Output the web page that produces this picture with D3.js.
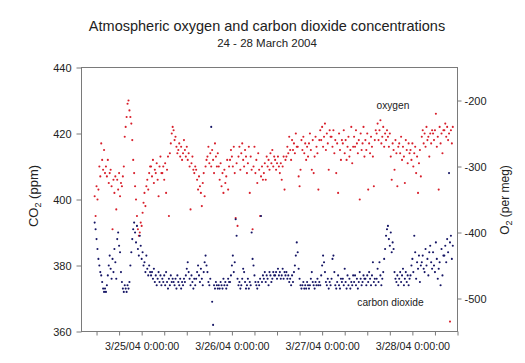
<!DOCTYPE html>
<html>
<head>
<meta charset="utf-8">
<script src="https://cdn.jsdelivr.net/npm/d3@7"></script>
<style>
  body { margin: 0; background: #fff; }
  text { font-family: Arial, "Liberation Sans", sans-serif; fill: #222; }
</style>
</head>
<body>
<div id="chart"></div>
<script>
// one reading every 15 minutes from 3/24/04 11:30
const startTime = new Date(2004, 2, 24, 11, 30);
const stepMinutes = 15;

// CO2 (ppm), left axis
const co2Values = [
  393,391,388,385,382,380,378,377,375,373,372,373,
  372,374,377,380,383,379,376,382,378,385,381,376,
  388,390,386,384,378,375,373,372,374,373,372,374,
  373,375,380,384,388,391,393,390,387,392,385,383,
  389,386,382,384,380,381,378,383,379,377,380,378,
  377,378,376,379,375,377,374,376,378,375,377,374,
  376,375,377,374,378,375,373,376,374,377,375,376,
  375,374,376,373,377,375,374,376,373,375,374,376,
  375,377,379,381,378,376,374,377,375,373,376,374,
  376,378,380,377,375,379,376,374,378,381,383,380,
  378,375,374,376,422,369,362,374,373,375,374,373,
  374,373,375,374,373,376,374,375,373,374,376,375,
  375,377,380,383,378,381,394,389,376,374,375,373,
  374,376,379,378,375,373,374,376,373,375,374,390,
  382,380,377,375,374,373,375,374,376,395,375,377,
  376,378,375,377,376,374,378,377,375,376,378,377,
  377,378,376,379,377,378,376,377,379,376,378,377,
  378,376,377,375,376,374,377,375,378,380,383,387,
  384,379,376,374,373,374,375,373,374,373,375,374,
  373,374,376,378,375,374,373,375,374,376,374,375,
  374,377,380,383,381,378,375,374,376,373,375,374,
  376,382,383,378,374,373,375,377,374,373,376,375,
  376,374,379,375,373,377,374,376,373,375,374,377,
  375,377,374,376,373,375,378,376,374,375,377,376,
  376,374,377,375,378,376,374,377,381,375,376,374,
  376,379,375,381,377,374,376,378,382,385,389,391,
  392,388,386,390,384,387,385,378,376,375,377,374,
  376,378,375,377,379,374,376,378,375,377,374,376,
  377,380,382,378,389,384,376,381,379,383,375,380,
  381,383,379,378,385,380,382,377,384,386,381,379,
  384,380,378,387,382,376,379,381,374,385,377,383,
  383,386,381,388,384,408,387,389,382,386
];

// O2 (per meg), right axis
const o2Values = [
  -345,-375,-330,-350,-335,-300,-315,-265,-290,-305,-275,-310,
  -300,-315,-290,-325,-310,-305,-330,-395,-320,-340,-315,-365,
  -320,-335,-310,-345,-325,-330,-315,-300,-255,-240,-225,-205,
  -200,-215,-225,-235,-260,-290,-310,-330,-350,-375,-395,-405,
  -400,-385,-390,-370,-355,-340,-360,-330,-320,-335,-310,-300,
  -300,-315,-290,-325,-305,-310,-295,-320,-345,-300,-285,-310,
  -310,-300,-320,-295,-340,-305,-285,-375,-280,-265,-250,-240,
  -245,-260,-255,-270,-280,-275,-265,-285,-270,-290,-280,-260,
  -275,-285,-270,-290,-280,-300,-365,-295,-285,-305,-310,-300,
  -305,-320,-335,-315,-330,-340,-360,-325,-310,-345,-300,-290,
  -285,-270,-295,-280,-300,-275,-290,-310,-265,-285,-300,-280,
  -300,-320,-295,-330,-310,-340,-305,-325,-315,-290,-335,-300,
  -290,-275,-285,-300,-270,-310,-378,-295,-390,-285,-270,-305,
  -280,-265,-290,-300,-275,-285,-310,-295,-270,-340,-285,-305,
  -395,-300,-270,-310,-290,-325,-280,-305,-375,-315,-300,-320,
  -310,-295,-320,-285,-300,-290,-305,-280,-295,-275,-300,-285,
  -290,-305,-295,-285,-300,-310,-295,-320,-300,-285,-335,-290,
  -285,-270,-280,-255,-275,-290,-260,-275,-265,-280,-250,-270,
  -270,-315,-330,-305,-260,-275,-255,-280,-265,-290,-270,-285,
  -265,-250,-275,-305,-260,-310,-285,-255,-270,-280,-335,-260,
  -245,-260,-240,-270,-255,-235,-275,-250,-265,-305,-245,-255,
  -255,-270,-245,-280,-260,-310,-265,-340,-250,-275,-290,-260,
  -265,-245,-280,-260,-290,-270,-255,-285,-275,-240,-295,-270,
  -255,-270,-245,-265,-280,-260,-350,-250,-275,-265,-240,-285,
  -260,-275,-250,-335,-265,-280,-255,-270,-285,-330,-260,-245,
  -250,-235,-260,-245,-230,-265,-255,-240,-270,-250,-260,-245,
  -255,-270,-250,-285,-320,-265,-275,-305,-260,-280,-330,-270,
  -265,-280,-255,-290,-270,-285,-325,-260,-275,-295,-265,-280,
  -275,-290,-265,-300,-280,-270,-310,-285,-340,-295,-275,-315,
  -255,-245,-265,-250,-270,-240,-260,-255,-285,-250,-265,-245,
  -250,-260,-245,-220,-270,-255,-335,-240,-265,-250,-280,-245,
  -245,-235,-255,-240,-260,-250,-535,-245,-265,-240
];

const co2Ticks = [360, 380, 400, 420, 440];
const o2Ticks = [-500, -400, -300, -200];
const timeDomain = [new Date(2004, 2, 24, 8), new Date(2004, 2, 28, 12)];

const width = 525, height = 363;
const plotLeft = 81.5, plotRight = 457.5, plotTop = 67.5, plotBottom = 331.5;

const svg = d3.select("#chart").append("svg")
  .attr("width", width)
  .attr("height", height);

const x = d3.scaleTime().domain(timeDomain).range([plotLeft, plotRight]);
const yCo2 = d3.scaleLinear().domain([360, 440]).range([plotBottom, plotTop]);
const yO2 = d3.scaleLinear().domain([-550, -150]).range([plotBottom, plotTop]);

const timeOf = i => new Date(startTime.getTime() + i * stepMinutes * 60000);
const fmt = d3.timeFormat("%-m/%-d/%y %-H:%M:%S");

// frame
svg.append("rect")
  .attr("x", plotLeft).attr("y", plotTop)
  .attr("width", plotRight - plotLeft).attr("height", plotBottom - plotTop)
  .style("fill", "none").style("stroke", "#7a7a7a");

function styleAxis(g) {
  g.select(".domain").remove();
  g.selectAll("line").style("stroke", "#7a7a7a");
  g.selectAll("text").style("font-family", "Arial, 'Liberation Sans', sans-serif").style("fill", "#222");
}

svg.append("g")
  .attr("transform", `translate(${plotLeft},0)`)
  .call(d3.axisLeft(yCo2).tickValues(co2Ticks).tickSize(5).tickPadding(5).tickFormat(d3.format("d")))
  .call(styleAxis)
  .selectAll("text").style("font-size", "11px");

svg.append("g")
  .attr("transform", `translate(${plotRight},0)`)
  .call(d3.axisRight(yO2).tickValues(o2Ticks).tickSize(4).tickPadding(3).tickFormat(d => d))
  .call(styleAxis)
  .selectAll("text").style("font-size", "11px");

svg.append("g")
  .attr("transform", `translate(0,${plotBottom})`)
  .call(d3.axisBottom(x).ticks(d3.timeHour.every(6)).tickSize(4).tickPadding(7)
    .tickFormat(d => d.getHours() === 0 ? fmt(d) : ""))
  .call(styleAxis)
  .selectAll("text").style("font-size", "10.7px");

// points
svg.append("g").selectAll("circle")
  .data(o2Values)
  .enter()
  .append("circle")
  .attr("cx", (d, i) => x(timeOf(i)))
  .attr("cy", d => yO2(d))
  .attr("r", 1.05)
  .style("fill", "#d81e2a");

svg.append("g").selectAll("circle")
  .data(co2Values)
  .enter()
  .append("circle")
  .attr("cx", (d, i) => x(timeOf(i)))
  .attr("cy", d => yCo2(d))
  .attr("r", 1.05)
  .style("fill", "#141464");

// titles
svg.append("text")
  .attr("x", 267).attr("y", 31)
  .attr("text-anchor", "middle")
  .style("font-size", "14.5px")
  .text("Atmospheric oxygen and carbon dioxide concentrations");

svg.append("text")
  .attr("x", 267).attr("y", 47.3)
  .attr("text-anchor", "middle")
  .style("font-size", "11.5px")
  .text("24 - 28 March 2004");

const co2Title = svg.append("text")
  .attr("transform", "translate(38,196) rotate(-90)")
  .attr("text-anchor", "middle")
  .style("font-size", "13px");
co2Title.append("tspan").text("CO");
co2Title.append("tspan").attr("dy", 3).style("font-size", "9px").text("2");
co2Title.append("tspan").attr("dy", -3).text(" (ppm)");

const o2Title = svg.append("text")
  .attr("transform", "translate(509,200) rotate(-90)")
  .attr("text-anchor", "middle")
  .style("font-size", "12px");
o2Title.append("tspan").text("O");
o2Title.append("tspan").attr("dy", 3).style("font-size", "9px").text("2");
o2Title.append("tspan").attr("dy", -3).text(" (per meg)");

svg.append("text")
  .attr("x", 376.5).attr("y", 108.7)
  .style("font-size", "10.2px")
  .text("oxygen");

svg.append("text")
  .attr("x", 357.3).attr("y", 306)
  .style("font-size", "10.2px")
  .text("carbon dioxide");
</script>
</body>
</html>
